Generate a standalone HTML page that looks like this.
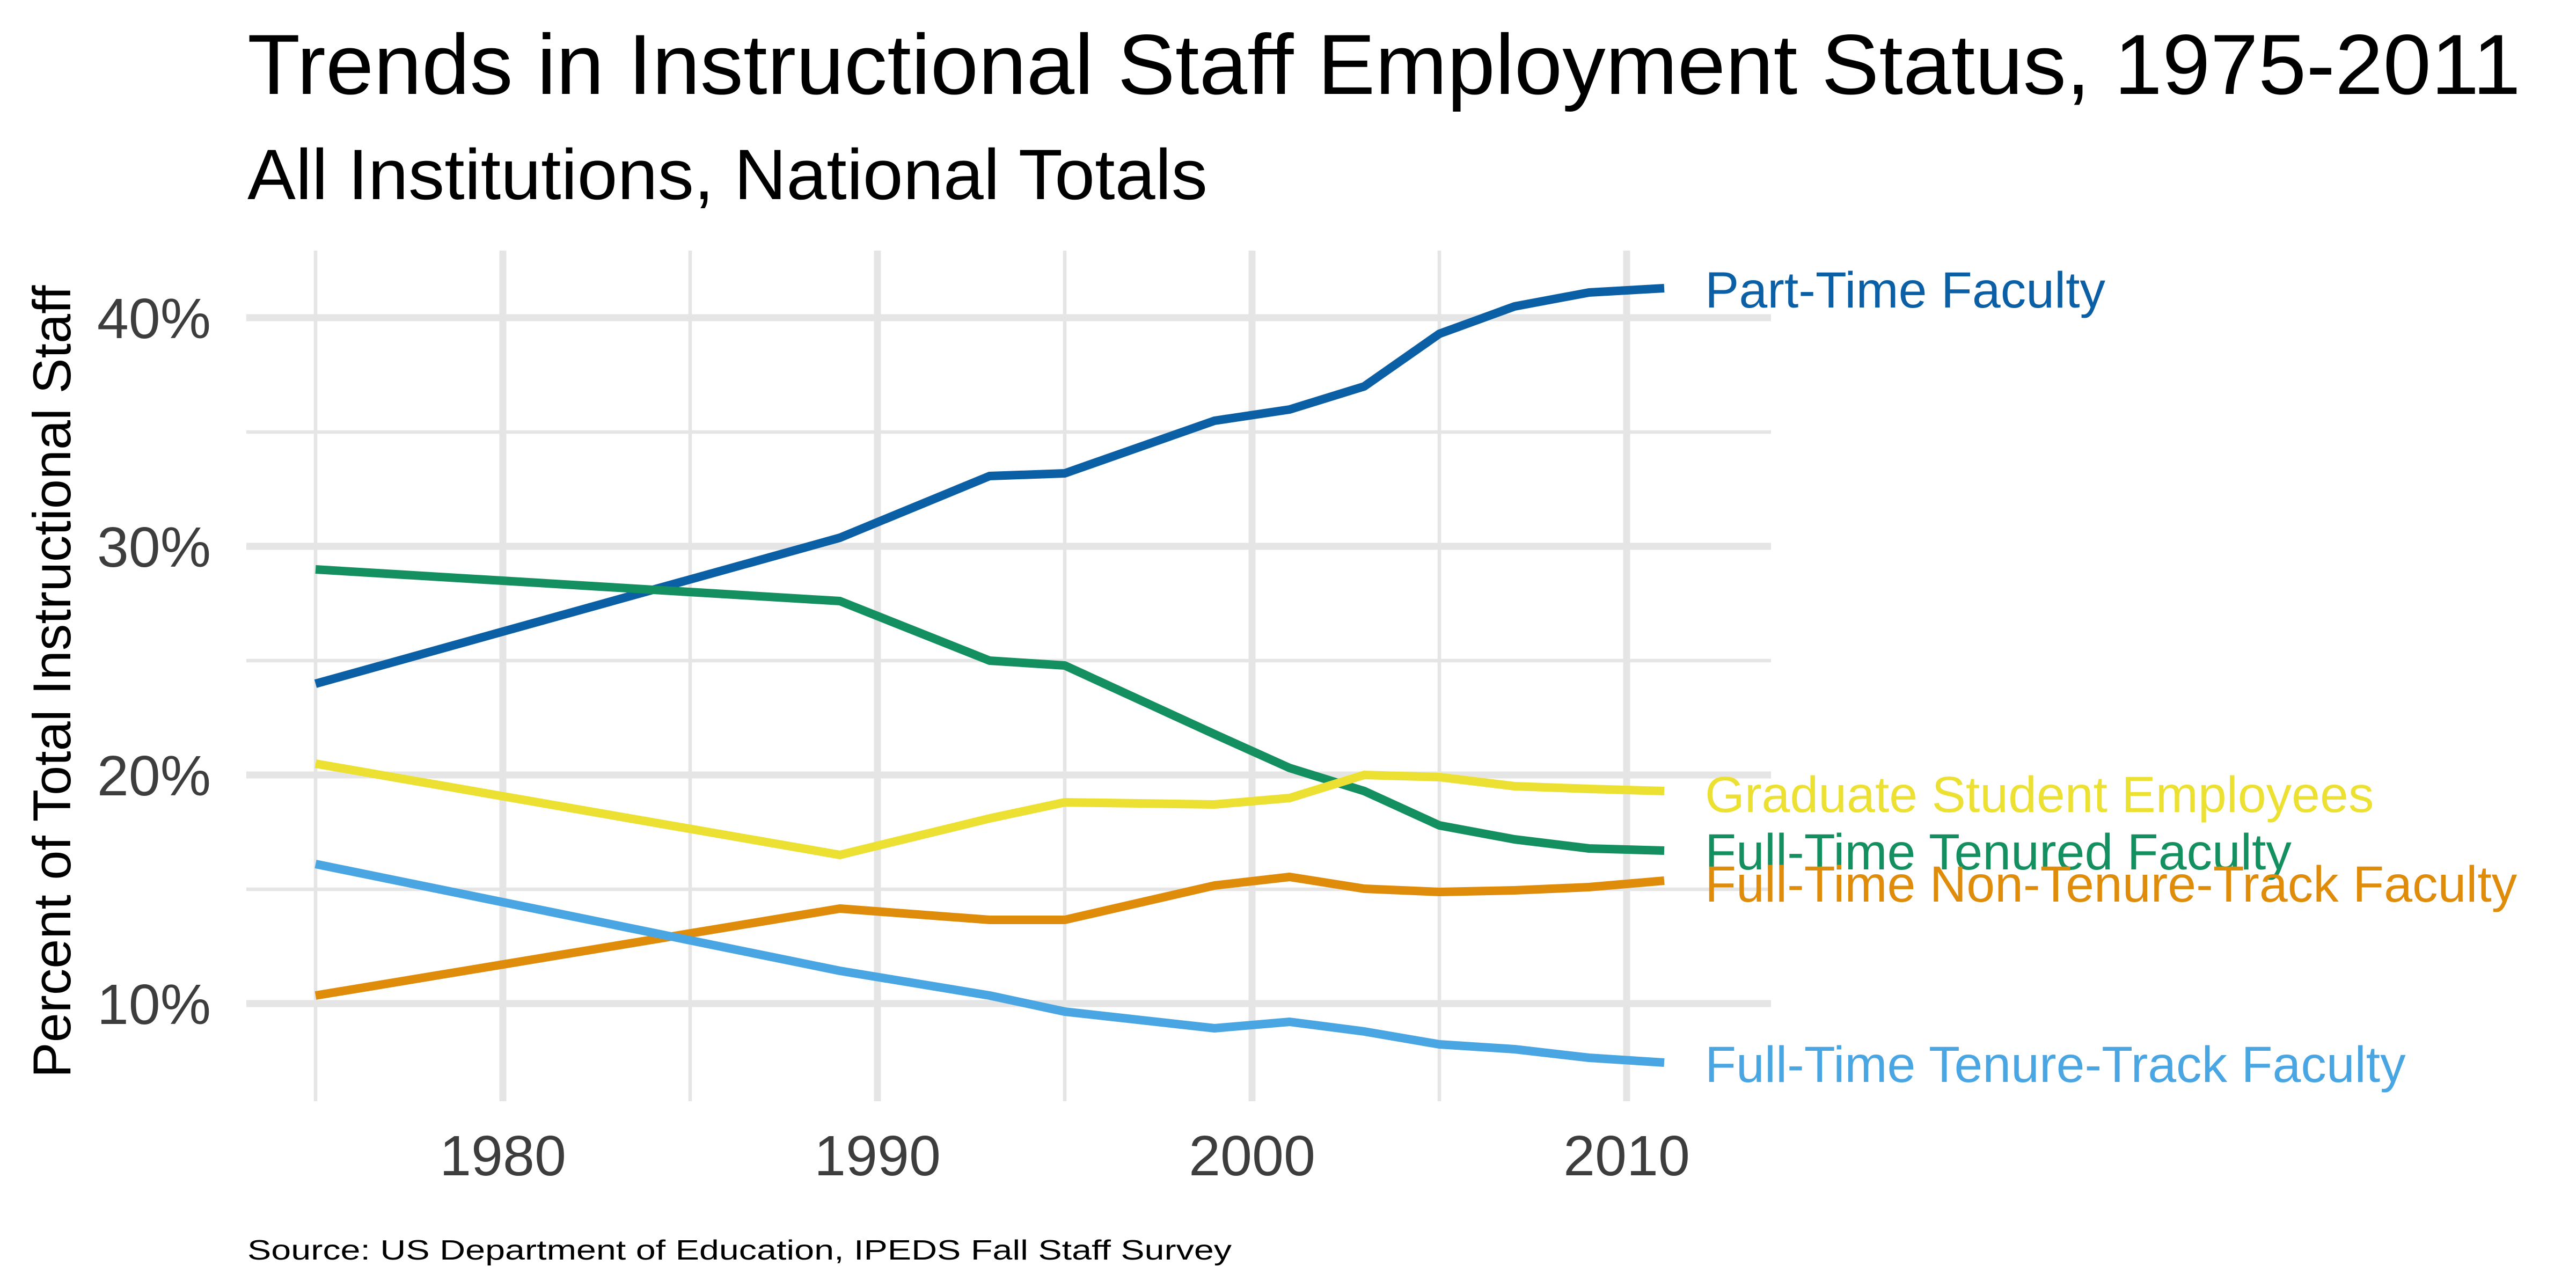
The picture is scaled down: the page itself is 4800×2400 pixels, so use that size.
<!DOCTYPE html>
<html><head><meta charset="utf-8"><style>html,body{margin:0;padding:0;background:#fff}svg{display:block}</style></head>
<body>
<svg width="4800" height="2400" viewBox="0 0 4800 2400" xmlns="http://www.w3.org/2000/svg" font-family="Liberation Sans, Arial, sans-serif">
<rect width="4800" height="2400" fill="#fff"/>
<g stroke="#e5e5e5" fill="none">
  <g stroke-width="6.5">
    <line x1="459" x2="3300" y1="805" y2="805"/>
    <line x1="459" x2="3300" y1="1231" y2="1231"/>
    <line x1="459" x2="3300" y1="1657" y2="1657"/>
    <line x1="588" x2="588" y1="467" y2="2052"/>
    <line x1="1286" x2="1286" y1="467" y2="2052"/>
    <line x1="1984" x2="1984" y1="467" y2="2052"/>
    <line x1="2682" x2="2682" y1="467" y2="2052"/>
  </g>
  <g stroke-width="13">
    <line x1="459" x2="3300" y1="592" y2="592"/>
    <line x1="459" x2="3300" y1="1018" y2="1018"/>
    <line x1="459" x2="3300" y1="1444" y2="1444"/>
    <line x1="459" x2="3300" y1="1870" y2="1870"/>
    <line x1="937" x2="937" y1="467" y2="2052"/>
    <line x1="1635" x2="1635" y1="467" y2="2052"/>
    <line x1="2333" x2="2333" y1="467" y2="2052"/>
    <line x1="3031" x2="3031" y1="467" y2="2052"/>
  </g>
</g>
<g fill="none" stroke-width="16" stroke-linejoin="round">
<polyline stroke="#0b5fa5" points="588,1274 1565,1002 1844,887 1984,882 2263,784 2403,763 2542,720 2682,622 2822,571 2961,545 3101,537"/>
<polyline stroke="#148f5f" points="588,1061 1565,1120 1844,1231 1984,1240 2263,1368 2403,1431 2542,1474 2682,1538 2822,1564 2961,1581 3101,1585"/>
<polyline stroke="#ece133" points="588,1423 1565,1593 1844,1525 1984,1495 2263,1499 2403,1487 2542,1444 2682,1448 2822,1465 2961,1470 3101,1474"/>
<polyline stroke="#e08c0b" points="588,1855 1565,1693 1844,1714 1984,1714 2263,1650 2403,1634 2542,1656 2682,1662 2822,1659 2961,1653 3101,1641"/>
<polyline stroke="#4aa6e2" points="588,1610 1565,1809 1844,1855 1984,1885 2263,1916 2403,1904 2542,1922 2682,1946 2822,1955 2961,1971 3101,1980"/>
</g>
<g font-size="95">
<text x="3177" y="573" fill="#0b5fa5">Part-Time Faculty</text>
<text x="3177" y="1513" fill="#ece133">Graduate Student Employees</text>
<text x="3177" y="1620" fill="#148f5f">Full-Time Tenured Faculty</text>
<text x="3177" y="1680" fill="#e08c0b">Full-Time Non-Tenure-Track Faculty</text>
<text x="3177" y="2016" fill="#4aa6e2">Full-Time Tenure-Track Faculty</text>
</g>
<g font-size="106" fill="#3d3d3d" text-anchor="end">
<text x="393" y="630">40%</text>
<text x="393" y="1056">30%</text>
<text x="393" y="1482">20%</text>
<text x="393" y="1908">10%</text>
</g>
<g font-size="106" fill="#3d3d3d" text-anchor="middle">
<text x="937" y="2190">1980</text>
<text x="1635" y="2190">1990</text>
<text x="2333" y="2190">2000</text>
<text x="3031" y="2190">2010</text>
</g>
<text transform="translate(131,1270) rotate(-90)" text-anchor="middle" font-size="99" fill="#000">Percent of Total Instructional Staff</text>
<text x="461" y="175" font-size="159" fill="#000" textLength="4236" lengthAdjust="spacingAndGlyphs">Trends in Instructional Staff Employment Status, 1975-2011</text>
<text x="461" y="371" font-size="133" fill="#000" textLength="1789" lengthAdjust="spacingAndGlyphs">All Institutions, National Totals</text>
<text x="461" y="2347" font-size="52" fill="#000" textLength="1834" lengthAdjust="spacingAndGlyphs">Source: US Department of Education, IPEDS Fall Staff Survey</text>
</svg>
</body></html>
